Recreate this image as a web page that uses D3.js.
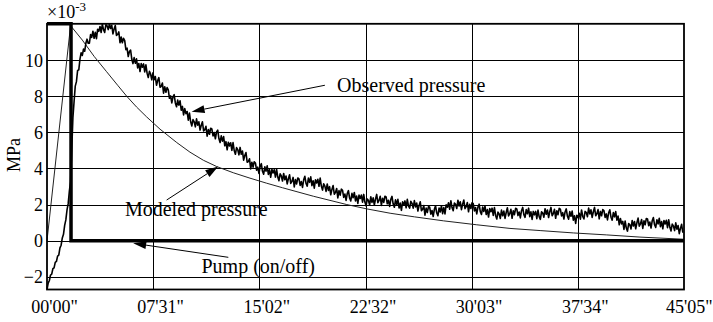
<!DOCTYPE html>
<html>
<head>
<meta charset="utf-8">
<script src="https://cdn.jsdelivr.net/npm/d3@7"></script>
<style>
  html, body { margin: 0; padding: 0; background: #fff; }
  svg { display: block; }
  text { font-family: "Liberation Serif", "Times New Roman", serif; fill: #000; }
</style>
</head>
<body>
<svg id="chart" width="713" height="322"></svg>
<script>
// Time axis (seconds) and tick labels
const xTickLabels = ["00'00\"", "07'31\"", "15'02\"", "22'32\"", "30'03\"", "37'34\"", "45'05\""];
const totalSeconds = 2705;
const yTicks = [-2, 0, 2, 4, 6, 8, 10];

// Pump state (on = top of scale, off = 0)
const pumpTime  = [0, 102, 102, 2705];
const pumpValue = [12, 12, 0, 0];

// Modeled pressure (x1e-3 MPa)
const modeledTime  = [0, 100, 150, 200, 253, 300, 338, 380, 423, 480, 551, 607, 664, 721, 791, 862, 933, 1000, 1131, 1273, 1358, 1457, 1560, 1683, 1825, 1966, 2094, 2235, 2377, 2518, 2705];
const modeledValue = [0, 11.9, 11.1, 10.2, 9.35, 8.6, 8.0, 7.4, 6.85, 6.17, 5.43, 4.9, 4.45, 4.1, 3.76, 3.46, 3.18, 2.93, 2.46, 2.0, 1.76, 1.52, 1.32, 1.1, 0.88, 0.68, 0.56, 0.43, 0.32, 0.2, 0.08];

// Observed pressure (x1e-3 MPa), one reading every 5 s from t = 0
const observedStep = 5;
const observedValue = [
  -2.7, -2.35, -2.2, -1.9, -1.85, -1.55, -1.5, -1.2, -1.15, -0.85, -0.8, -0.4, -0.25, 0.15, 0.35, 0.85, 1.15, 1.7, 2.05, 2.75, 3.25,
  5.0, 6.8, 7.7, 8.55, 8.8, 9.42, 9.45, 10.05, 10.4, 10.25, 10.6, 10.48, 10.92, 11.15, 10.92, 10.93, 11.4, 11.25, 11.59, 11.2,
  11.53, 11.18, 11.7, 11.58, 11.85, 11.52, 11.98, 11.68, 11.52, 11.95, 11.89, 11.68, 11.99, 11.74, 11.92, 11.44, 11.71, 11.9, 11.36, 11.41,
  11.55, 10.95, 11.27, 10.95, 11.2, 11.07, 10.57, 10.65, 10.19, 10.47, 10.55, 10.05, 9.8, 10.13, 9.82, 10.06, 9.56, 9.8, 9.36, 9.8,
  9.6, 9.78, 9.34, 9.73, 9.27, 9.03, 9.37, 9.22, 8.9, 9.29, 8.9, 9.08, 8.6, 8.86, 9.02, 8.49, 8.54, 8.72, 8.16, 8.52,
  8.21, 8.47, 8.34, 7.88, 8.01, 7.62, 7.96, 8.08, 7.62, 7.41, 7.78, 7.5, 7.74, 7.22, 7.43, 6.96, 7.31, 7.03, 7.15, 6.67,
  7.06, 6.58, 6.35, 6.7, 6.58, 6.3, 6.74, 6.39, 6.58, 6.12, 6.39, 6.58, 6.07, 6.14, 6.33, 5.78, 6.15, 5.89, 6.22, 6.18,
  5.8, 5.98, 5.64, 6.02, 6.12, 5.65, 5.43, 5.8, 5.51, 5.76, 5.25, 5.48, 5.03, 5.45, 5.24, 5.42, 5.0, 5.43, 4.99, 4.78,
  5.15, 5.04, 4.75, 5.16, 4.78, 4.96, 4.46, 4.71, 4.88, 4.34, 4.38, 4.53, 3.97, 4.34, 4.07, 4.37, 4.3, 3.9, 4.07, 3.72,
  4.1, 4.26, 3.84, 3.68, 4.09, 3.85, 4.14, 3.67, 3.93, 3.51, 3.95, 3.75, 3.93, 3.52, 3.95, 3.52, 3.32, 3.7, 3.58, 3.3,
  3.72, 3.37, 3.58, 3.14, 3.43, 3.65, 3.17, 3.28, 3.5, 2.98, 3.38, 3.14, 3.47, 3.42, 3.06, 3.27, 2.95, 3.37, 3.56, 3.17,
  3.02, 3.46, 3.23, 3.53, 3.05, 3.32, 2.91, 3.37, 3.19, 3.4, 3.01, 3.46, 3.02, 2.8, 3.15, 3.02, 2.73, 3.14, 2.78, 2.99,
  2.54, 2.84, 3.05, 2.57, 2.67, 2.89, 2.37, 2.77, 2.52, 2.85, 2.79, 2.4, 2.58, 2.23, 2.61, 2.77, 2.36, 2.2, 2.62, 2.38,
  2.67, 2.2, 2.47, 2.06, 2.52, 2.34, 2.53, 2.13, 2.56, 2.14, 1.93, 2.31, 2.22, 1.97, 2.43, 2.12, 2.37, 1.97, 2.3, 2.56,
  2.1, 2.23, 2.46, 1.95, 2.35, 2.12, 2.46, 2.42, 2.04, 2.24, 1.9, 2.29, 2.45, 2.03, 1.85, 2.26, 2.0, 2.29, 1.81, 2.08,
  1.68, 2.15, 1.98, 2.2, 1.82, 2.29, 1.93, 1.8, 2.18, 2.07, 1.8, 2.22, 1.87, 2.08, 1.64, 1.94, 2.15, 1.66, 1.74, 1.94,
  1.41, 1.8, 1.56, 1.89, 1.85, 1.47, 1.67, 1.34, 1.74, 1.93, 1.53, 1.38, 1.81, 1.59, 1.93, 1.5, 1.83, 1.48, 1.98, 1.85,
  2.1, 1.74, 2.21, 1.83, 1.66, 2.08, 2.01, 1.78, 2.24, 1.92, 2.15, 1.72, 2.02, 2.25, 1.77, 1.88, 2.11, 1.6, 2.01, 1.78,
  2.1, 2.05, 1.65, 1.83, 1.48, 1.86, 2.02, 1.61, 1.45, 1.86, 1.62, 1.92, 1.45, 1.72, 1.31, 1.78, 1.6, 1.8, 1.4, 1.83,
  1.4, 1.2, 1.58, 1.48, 1.23, 1.69, 1.38, 1.64, 1.23, 1.56, 1.82, 1.37, 1.5, 1.74, 1.24, 1.66, 1.44, 1.79, 1.76, 1.39,
  1.59, 1.26, 1.66, 1.84, 1.44, 1.29, 1.72, 1.49, 1.8, 1.33, 1.6, 1.18, 1.62, 1.43, 1.62, 1.22, 1.69, 1.33, 1.18, 1.6,
  1.53, 1.3, 1.77, 1.46, 1.7, 1.28, 1.6, 1.84, 1.38, 1.5, 1.74, 1.24, 1.66, 1.44, 1.79, 1.75, 1.37, 1.55, 1.2, 1.59,
  1.76, 1.35, 1.19, 1.61, 1.35, 1.64, 1.14, 1.38, 0.96, 1.41, 1.27, 1.52, 1.19, 1.7, 1.34, 1.2, 1.62, 1.56, 1.33, 1.8,
  1.48, 1.71, 1.29, 1.6, 1.84, 1.38, 1.49, 1.72, 1.21, 1.62, 1.38, 1.72, 1.67, 1.29, 1.48, 1.15, 1.54, 1.71, 1.3, 1.14,
  1.56, 1.32, 1.61, 1.14, 1.36, 0.88, 1.23, 0.93, 1.07, 0.62, 1.09, 0.7, 0.53, 0.95, 0.88, 0.65, 1.12, 0.81, 1.06, 0.66,
  0.99, 1.25, 0.8, 0.93, 1.17, 0.68, 1.1, 0.88, 1.23, 1.2, 0.83, 1.03, 0.7, 1.1, 1.28, 0.88, 0.73, 1.16, 0.93, 1.24,
  0.78, 1.06, 0.66, 1.12, 0.93, 1.13, 0.72, 1.16, 0.74, 0.54, 0.92, 0.82, 0.56, 0.99, 0.64, 0.84, 0.39, 0.68, 0.91, 0.44
];

// Callouts in data units: arrow tip, arrow tail, label anchor
const callouts = [
  { text: "Observed pressure", tip: [614, 7.14], tail: [1180, 8.6], label: [1232, 8.22] },
  { text: "Modeled pressure",  tip: [727, 4.1],  tail: [508, 2.25], label: [331, 1.37] },
  { text: "Pump (on/off)",     tip: [366, -0.14], tail: [770, -0.92], label: [656, -1.79] }
];

const W = 713, H = 322;
const plot = { left: 47, right: 684, top: 23.8, bottom: 289.5 };
const serif = "Liberation Serif, Times New Roman, serif";

const svg = d3.select("#chart");
const x = d3.scaleLinear().domain([0, totalSeconds]).range([plot.left, plot.right]);
const y = d3.scaleLinear().domain([-2.7, 12]).range([plot.bottom, plot.top]);

const xTickValues = xTickLabels.map((_, i) => i * totalSeconds / (xTickLabels.length - 1));

// Grid
const grid = svg.append("g").attr("stroke", "#000").attr("stroke-width", 1);
grid.selectAll("line.v").data(xTickValues.slice(1, -1)).join("line")
  .attr("x1", d => Math.round(x(d)) + 0.5).attr("x2", d => Math.round(x(d)) + 0.5)
  .attr("y1", plot.top).attr("y2", plot.bottom);
grid.selectAll("line.h").data(yTicks).join("line")
  .attr("x1", plot.left).attr("x2", plot.right)
  .attr("y1", d => Math.round(y(d)) + 0.5).attr("y2", d => Math.round(y(d)) + 0.5);

// Axes (labels only; frame drawn separately)
const xAxis = d3.axisBottom(x).tickValues(xTickValues).tickSize(0)
  .tickFormat((d, i) => xTickLabels[i]);
const gx = svg.append("g").attr("transform", `translate(0,${plot.bottom})`).call(xAxis)
  .attr("font-family", serif);
gx.select(".domain").remove();
gx.selectAll("text").attr("font-size", 18).attr("dy", null).attr("y", 23)
  .each(function (d) {
    const w = this.getComputedTextLength();
    let cx = x(d) + 7;
    if (cx + w / 2 > W - 1) cx = W - 1 - w / 2;
    d3.select(this).attr("x", cx - x(d));
  });

const yAxis = d3.axisLeft(y).tickValues(yTicks).tickSize(0).tickFormat(d3.format("d"));
const gy = svg.append("g").attr("transform", `translate(${plot.left},0)`).call(yAxis)
  .attr("font-family", serif);
gy.select(".domain").remove();
gy.selectAll("text").attr("font-size", 18).attr("x", -4).attr("dy", "0.34em");

// Axis title and scale factor
svg.append("text").attr("transform", `translate(20,155) rotate(-90)`)
  .attr("text-anchor", "middle").attr("font-size", 18).text("MPa");
const sf = svg.append("text").attr("x", 47).attr("y", 18).attr("font-size", 18);
sf.append("tspan").text("\u00d710");
sf.append("tspan").attr("font-size", 13).attr("dy", -7).text("-3");

// Series
const line = d3.line().x(d => x(d[0])).y(d => y(d[1]));

svg.append("path")
  .datum(modeledTime.map((t, i) => [t, modeledValue[i]]))
  .attr("fill", "none").attr("stroke", "#222").attr("stroke-width", 1)
  .attr("d", line);

svg.append("path")
  .datum(observedValue.map((v, i) => [i * observedStep, v]))
  .attr("fill", "none").attr("stroke", "#000").attr("stroke-width", 1.6)
  .attr("stroke-linejoin", "round")
  .attr("d", line);

svg.append("path")
  .datum(pumpTime.map((t, i) => [t, pumpValue[i]]))
  .attr("fill", "none").attr("stroke", "#000").attr("stroke-width", 3.5)
  .attr("stroke-linejoin", "miter")
  .attr("d", line);

// Frame
svg.append("rect")
  .attr("x", plot.left).attr("y", plot.top)
  .attr("width", plot.right - plot.left).attr("height", plot.bottom - plot.top)
  .attr("fill", "none").attr("stroke", "#000").attr("stroke-width", 1.8);

// Callouts
const ann = svg.append("g");
callouts.forEach(c => {
  const [tx, ty] = [x(c.tip[0]), y(c.tip[1])];
  const [sx, sy] = [x(c.tail[0]), y(c.tail[1])];
  const ang = Math.atan2(ty - sy, tx - sx);
  const len = 13, half = 4;
  const bx = tx - len * Math.cos(ang), by = ty - len * Math.sin(ang);
  ann.append("line").attr("x1", sx).attr("y1", sy).attr("x2", bx).attr("y2", by)
    .attr("stroke", "#000").attr("stroke-width", 1);
  const px = -Math.sin(ang) * half, py = Math.cos(ang) * half;
  ann.append("path")
    .attr("d", `M${tx},${ty}L${bx + px},${by + py}L${bx - px},${by - py}Z`)
    .attr("fill", "#000");
  ann.append("text").attr("x", x(c.label[0])).attr("y", y(c.label[1]))
    .attr("font-size", 20).text(c.text);
});
</script>
</body>
</html>
